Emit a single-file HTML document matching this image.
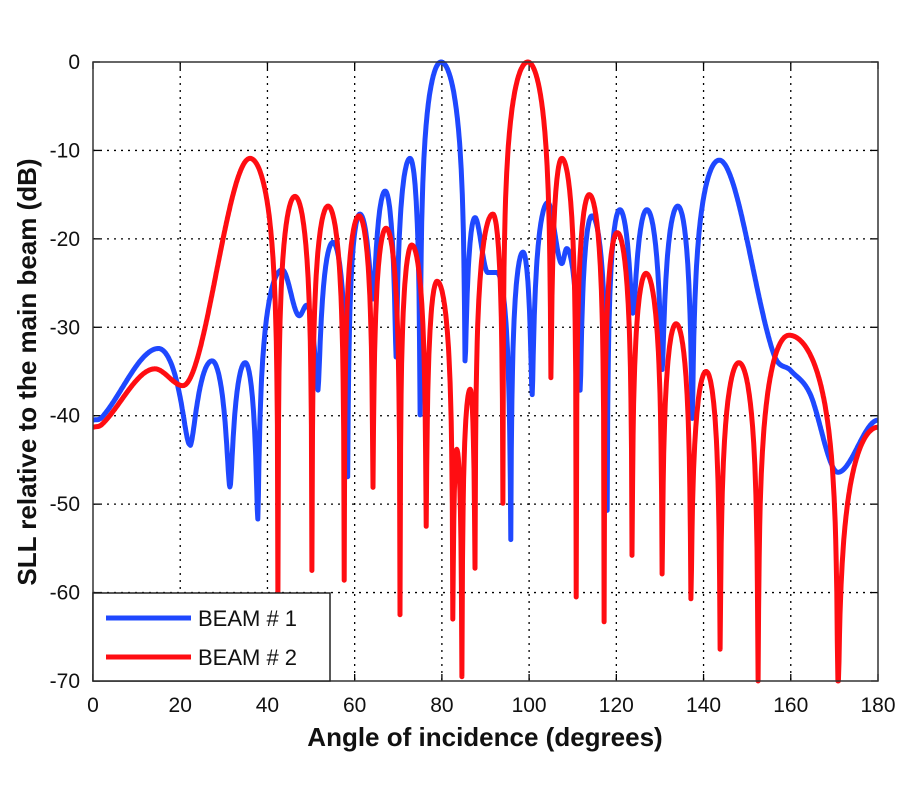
<!DOCTYPE html>
<html><head><meta charset="utf-8"><style>
html,body{margin:0;padding:0;background:#fff;}
svg{display:block;font-family:"Liberation Sans",Arial,sans-serif;}
</style></head><body>
<svg id="s" width="900" height="800" viewBox="0 0 900 800" xmlns="http://www.w3.org/2000/svg">
<rect x="0" y="0" width="900" height="800" fill="#fff"/>
<g id="grid" stroke="#000" stroke-width="1.3" stroke-dasharray="2,5"></g>
<g id="ticks" stroke="#000" stroke-width="1.3"></g>
<g id="labels" font-size="21" fill="#111"></g>
<path id="b1" fill="none" stroke="#1f48ff" stroke-width="5" stroke-linejoin="round"/>
<path id="b2" fill="none" stroke="#ff0d12" stroke-width="5" stroke-linejoin="round"/>
<rect x="93" y="62" width="785" height="619" fill="none" stroke="#333" stroke-width="1.5"/>
<rect x="93" y="593" width="237" height="88" fill="#fff" stroke="#222" stroke-width="1.5"/>
<line x1="106" y1="618" x2="191" y2="618" stroke="#1f48ff" stroke-width="5"/>
<line x1="106" y1="657" x2="191" y2="657" stroke="#ff0d12" stroke-width="5"/>
<text x="198" y="626" font-size="22" fill="#111">BEAM # 1</text>
<text x="198" y="665" font-size="22" fill="#111">BEAM # 2</text>
<text x="485" y="746" font-size="26" font-weight="bold" text-anchor="middle" fill="#111">Angle of incidence (degrees)</text>
<text transform="translate(36,372) rotate(-90)" font-size="26" font-weight="bold" text-anchor="middle" fill="#111">SLL relative to the main beam (dB)</text>
</svg>
<script>
var X0=93,X1=878,Y0=62,Y1=681;
function px(d){return X0+(X1-X0)*d/180;}
function py(v){return Y0+(Y1-Y0)*(-v)/70;}
var NS="http://www.w3.org/2000/svg";
function el(p,t,a,txt){var e=document.createElementNS(NS,t);for(var k in a)e.setAttribute(k,a[k]);if(txt!==undefined)e.textContent=txt;document.getElementById(p).appendChild(e);}
for(var d=20;d<180;d+=20)el("grid","line",{x1:px(d),y1:Y0,x2:px(d),y2:Y1});
for(var v=-10;v>-70;v-=10)el("grid","line",{x1:X0,y1:py(v),x2:X1,y2:py(v)});
for(var d=0;d<=180;d+=20){el("ticks","line",{x1:px(d),y1:Y1,x2:px(d),y2:Y1-7});el("ticks","line",{x1:px(d),y1:Y0,x2:px(d),y2:Y0+7});
 el("labels","text",{x:px(d),y:712,"text-anchor":"middle"},String(d));}
for(var v=0;v>=-70;v-=10){el("ticks","line",{x1:X0,y1:py(v),x2:X0+7,y2:py(v)});el("ticks","line",{x1:X1,y1:py(v),x2:X1-7,y2:py(v)});
 el("labels","text",{x:80,y:py(v)+7,"text-anchor":"end"},String(v));}
function tan(K,i){var k=K[i];if(k[2]!='s')return 0;var a=K[Math.max(0,i-1)],b=K[Math.min(K.length-1,i+1)];return (b[1]-a[1])/(b[0]-a[0]);}
function nullseg(P,D,s){var c=Math.cos(Math.PI/2*s);var f=Math.pow(10,(D-P)/20);return P+10*Math.log10((c*c+f*f)/(1+f*f));}
function build(K){
 var pts=[];
 for(var i=0;i<K.length-1;i++){
  var a=K[i],b=K[i+1];var N=Math.max(8,Math.round((b[0]-a[0])*8));
  var h=b[0]-a[0],m0=tan(K,i)*h,m1=tan(K,i+1)*h;
  for(var j=(i?1:0);j<=N;j++){
   var s=j/N,x=a[0]+h*s,y;
   if(b[2]=='n'&&a[2]!='n'){y=nullseg(a[1],b[1],s);}
   else if(a[2]=='n'&&b[2]!='n'){y=nullseg(b[1],a[1],1-s);}
   else {var s2=s*s,s3=s2*s;y=(2*s3-3*s2+1)*a[1]+(s3-2*s2+s)*m0+(-2*s3+3*s2)*b[1]+(s3-s2)*m1;}
   pts.push([x,y]);
  }
 }
 return "M"+pts.map(function(p){return px(p[0]).toFixed(1)+","+py(Math.max(p[1],-70)).toFixed(1);}).join("L");
}
var B1=[[0,-40.5,'s'],[2,-40.2,'s'],[15,-32.4,'p'],[22.2,-42.9,'n'],[27.3,-33.8,'p'],[31.4,-47.9,'n'],[34.9,-34,'p'],[37.8,-51.6,'n'],[43.4,-23.5,'p'],[47.3,-28.7,'t'],[49,-27.5,'p'],[51.6,-36.6,'n'],[55,-20.4,'p'],[58.4,-46.9,'n'],[61.2,-17.2,'p'],[64.2,-26.3,'n'],[67,-14.6,'p'],[69.5,-33.3,'n'],[72.7,-10.9,'p'],[75,-39.9,'n'],[79.8,0,'p'],[85.3,-33.8,'n'],[87.6,-17.6,'p'],[90.5,-23.8,'t'],[92.6,-23.8,'p'],[95.8,-54,'n'],[98.6,-21.5,'p'],[100.7,-37.5,'n'],[104.3,-15.9,'p'],[107.5,-22.8,'t'],[108.6,-21.1,'p'],[111.7,-37,'n'],[114.4,-17.4,'p'],[117.9,-50.7,'n'],[120.8,-16.7,'p'],[123.8,-28.1,'n'],[127,-16.7,'p'],[130.5,-34.7,'n'],[134.1,-16.3,'p'],[137.4,-40.3,'n'],[143.6,-11.1,'p'],[156,-32.9,'s'],[160,-34.9,'s'],[164.4,-37.5,'s'],[170.8,-46.4,'t'],[180,-40.5,'p']];
var B2=[[0,-41.3,'s'],[2,-41,'s'],[14.2,-34.7,'p'],[20.6,-36.6,'t'],[36,-10.9,'p'],[42.4,-61,'n'],[46.3,-15.2,'p'],[50.2,-57.5,'n'],[53.9,-16.3,'p'],[57.6,-58.6,'n'],[61,-17.4,'p'],[64.2,-48.1,'n'],[67.2,-18.8,'p'],[70.4,-62.5,'n'],[73.1,-20.7,'p'],[76.4,-52.5,'n'],[78.9,-24.8,'p'],[82.5,-63,'n'],[83.4,-43.8,'p'],[84.6,-69.5,'n'],[86.5,-37,'p'],[87.6,-57.2,'n'],[91.7,-17.2,'p'],[94,-49.9,'n'],[99.7,0,'p'],[105,-35.7,'n'],[107.5,-10.9,'p'],[110.8,-60.5,'n'],[113.8,-15,'p'],[117.2,-63.3,'n'],[120.2,-19.3,'p'],[123.6,-55.8,'n'],[126.8,-23.9,'p'],[130.5,-57.9,'n'],[133.7,-29.6,'p'],[137.1,-60.7,'n'],[140.6,-35,'p'],[143.8,-66.4,'n'],[148.1,-34,'p'],[152.5,-75,'n'],[159.6,-30.9,'p'],[170.8,-75,'n'],[180,-41.3,'p']];
document.getElementById("b1").setAttribute("d",build(B1));
document.getElementById("b2").setAttribute("d",build(B2));
</script>
</body></html>
